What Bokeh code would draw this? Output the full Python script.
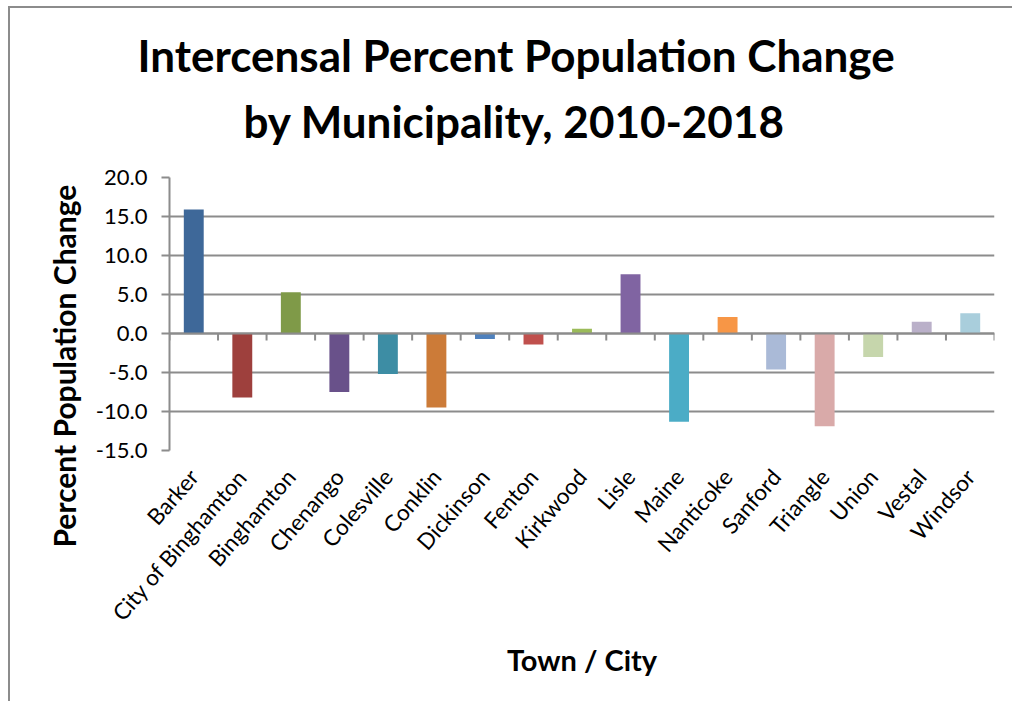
import math
from bokeh.plotting import figure
from bokeh.models import Range1d, FixedTicker, NumeralTickFormatter, Title, ColumnDataSource
from bokeh.embed import file_html
from bokeh.resources import INLINE

towns = ["Barker", "City of Binghamton", "Binghamton", "Chenango", "Colesville", "Conklin",
         "Dickinson", "Fenton", "Kirkwood", "Lisle", "Maine", "Nanticoke", "Sanford",
         "Triangle", "Union", "Vestal", "Windsor"]
pct_change = [15.9, -8.2, 5.3, -7.5, -5.2, -9.5, -0.7, -1.4, 0.6, 7.6, -11.3, 2.1, -4.6,
              -11.9, -3.0, 1.5, 2.6]
colors = ["#3E6899", "#9E403D", "#7F9A48", "#69518A", "#3D8DA4", "#CC7B38", "#4F81BD",
          "#C0504D", "#9BBB59", "#8064A2", "#4BACC6", "#F79646", "#AABAD7", "#D9AAA9",
          "#C6D6AC", "#BAB0C9", "#A9CEDC"]
y_ticks = [-15, -10, -5, 0, 5, 10, 15, 20]

FONT = "Lato"
n = len(towns)
xs = [i + 0.5 for i in range(n)]
bounds = list(range(n + 1))

p = figure(width=1012, height=701, output_backend="svg", toolbar_location=None,
           x_range=Range1d(0, n), y_range=Range1d(-15, 20),
           min_border_left=169, min_border_right=18, min_border_top=177, min_border_bottom=251)
p.outline_line_color = None
p.background_fill_color = "white"
p.border_fill_color = None
# chart-area border (left and top edges) painted behind the transparent canvas border
p.styles = {
    "background-color": "white",
    "background-image": "linear-gradient(#8C8C8C, #8C8C8C), linear-gradient(#8C8C8C, #8C8C8C)",
    "background-size": "2px 100%, 100% 2px",
    "background-position": "8px 6px, 8px 6px",
    "background-repeat": "no-repeat",
}

t2 = Title(text="by Municipality, 2010-2018", align="left", text_font=FONT,
           text_font_size="44px", text_font_style="bold", text_color="black",
           standoff=62, offset=74)
t1 = Title(text="Intercensal Percent Population Change", align="left", text_font=FONT,
           text_font_size="44px", text_font_style="bold", text_color="black",
           standoff=-39, offset=-32)
p.add_layout(t2, "above")
p.add_layout(t1, "above")

ylab = Title(text="Percent Population Change", align="left", text_font=FONT,
             text_font_size="30px", text_font_style="bold", text_color="black",
             standoff=22, offset=-97)
p.add_layout(ylab, "left")

src = ColumnDataSource(dict(x=xs, top=pct_change, color=colors))
p.vbar(x="x", top="top", bottom=0, width=0.41, fill_color="color", line_color=None, source=src)

# zero line with category-boundary ticks
p.segment(x0=[0], y0=[0], x1=[n], y1=[0], line_color="#8C8C8C", line_width=2)
p.segment(x0=bounds, y0=[0] * len(bounds), x1=bounds, y1=[-0.9] * len(bounds),
          line_color="#8C8C8C", line_width=2)

# y axis
ya = p.yaxis[0]
ya.ticker = FixedTicker(ticks=y_ticks)
ya.formatter = NumeralTickFormatter(format="0.0")
ya.axis_line_color = "#8C8C8C"
ya.axis_line_width = 2
ya.major_tick_line_color = "#8C8C8C"
ya.major_tick_line_width = 2
ya.major_tick_out = 8
ya.major_tick_in = 0
ya.minor_tick_line_color = None
ya.major_label_text_font = FONT
ya.major_label_text_font_size = "22px"
ya.major_label_text_color = "black"
ya.major_label_standoff = 14

# x axis
xa = p.xaxis[0]
xa.ticker = FixedTicker(ticks=xs)
xa.major_label_overrides = {x: t for x, t in zip(xs, towns)}
xa.major_label_orientation = math.radians(49)
xa.axis_line_color = None
xa.major_tick_line_color = None
xa.minor_tick_line_color = None
xa.major_label_text_font = FONT
xa.major_label_text_font_size = "22.5px"
xa.major_label_text_color = "black"
xa.major_label_standoff = 16
xa.axis_label = "Town / City"
xa.axis_label_text_font = FONT
xa.axis_label_text_font_size = "29px"
xa.axis_label_text_font_style = "bold"
xa.axis_label_text_color = "black"
xa.axis_label_standoff = 4

p.xgrid.grid_line_color = None
p.ygrid.ticker = FixedTicker(ticks=y_ticks)
p.ygrid.grid_line_color = "#8C8C8C"
p.ygrid.grid_line_width = 2

open("out.html", "w").write(file_html(p, INLINE))
